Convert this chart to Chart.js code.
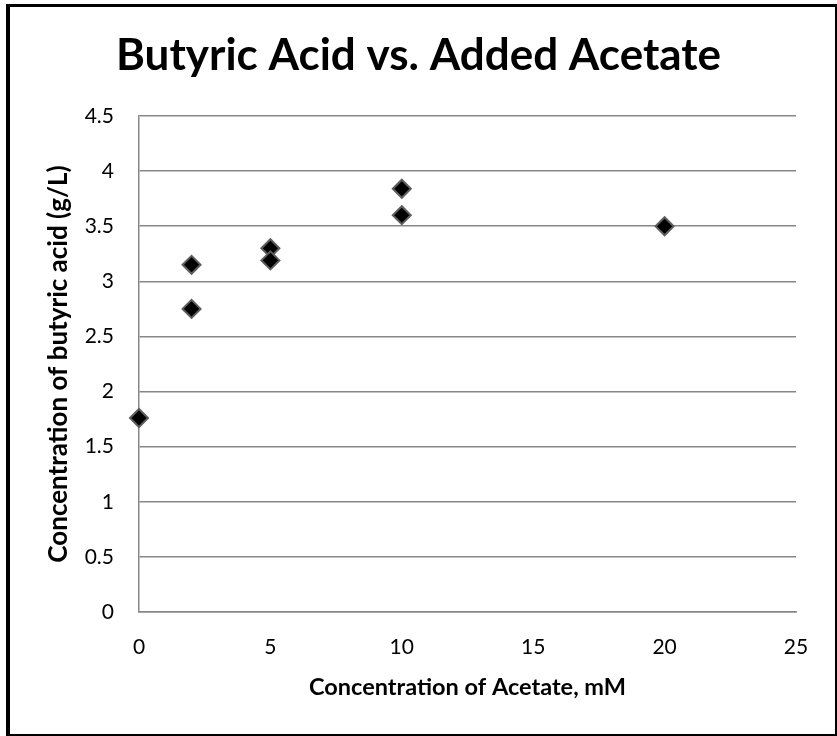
<!DOCTYPE html>
<html>
<head>
<meta charset="utf-8">
<script src="https://cdn.jsdelivr.net/npm/chart.js@4"></script>
<style>
  html, body { margin: 0; padding: 0; background: #fff; }
  #wrap { width: 837px; height: 736px; position: relative; }
</style>
</head>
<body>
<div id="wrap"><canvas id="chart" width="837" height="736"></canvas></div>
<script>
// donnees
const acetate = [0, 2, 2, 5, 5, 10, 10, 20];
const butyric = [1.76, 3.15, 2.75, 3.30, 3.19, 3.84, 3.60, 3.50];
const xTicks = [0, 5, 10, 15, 20, 25];
const yTicks = [0, 0.5, 1, 1.5, 2, 2.5, 3, 3.5, 4, 4.5];

const FONT = 'Lato, "Open Sans", sans-serif';
const GRID = '#878787';

// fond blanc + cadre noir (bords inegaux comme sur l'image)
const frame = {
  id: 'frame',
  beforeDraw(chart) {
    const c = chart.ctx;
    c.save();
    c.fillStyle = '#fff';
    c.fillRect(0, 0, chart.width, chart.height);
    c.fillStyle = '#000';
    c.fillRect(6, 4, 4, 732);
    c.fillRect(6, 4, 831, 3);
    c.fillRect(835, 4, 2, 732);
    c.fillRect(6, 734, 831, 2);
    c.restore();
  }
};

new Chart(document.getElementById('chart'), {
  type: 'scatter',
  data: {
    datasets: [{
      data: acetate.map((x, i) => ({ x, y: butyric[i] })),
      pointStyle: 'rectRot',
      pointRadius: 9,
      pointBackgroundColor: '#000',
      pointBorderColor: '#5e5e5e',
      pointBorderWidth: 2,
      clip: false
    }]
  },
  options: {
    responsive: false,
    animation: false,
    layout: { padding: 0 },
    plugins: {
      legend: { display: false },
      tooltip: { enabled: false },
      title: {
        display: true,
        text: 'Butyric Acid vs. Added Acetate',
        color: '#000',
        font: { family: FONT, size: 44, weight: 'bold' },
        padding: { top: 29, bottom: 34.2 }
      }
    },
    scales: {
      x: {
        type: 'linear',
        min: 0, max: 25,
        afterBuildTicks: s => { s.ticks = xTicks.map(v => ({ value: v })); },
        afterFit: s => { s.height = 124; },
        grid: { display: false, drawTicks: false },
        border: { display: true, color: GRID, width: 1.5 },
        ticks: { color: '#000', font: { family: FONT, size: 21 }, padding: 23, maxRotation: 0, callback: v => v },
        title: {
          display: true,
          text: 'Concentration of Acetate, mM',
          color: '#000',
          font: { family: FONT, size: 23.5, weight: 'bold' },
          padding: { top: 0, bottom: 34 }
        }
      },
      y: {
        min: 0, max: 4.5,
        afterBuildTicks: s => { s.ticks = yTicks.map(v => ({ value: v })); },
        afterFit: s => { s.width = 139; },
        grid: { color: GRID, lineWidth: 1.5, drawTicks: false },
        border: { display: true, color: GRID, width: 1.5 },
        ticks: { color: '#000', font: { family: FONT, size: 21 }, padding: 25, callback: v => v },
        title: {
          display: true,
          text: 'Concentration of butyric acid (g/L)',
          color: '#000',
          font: { family: FONT, size: 26, weight: 'bold' },
          padding: { top: 43, bottom: 0 }
        }
      },
      // axe vide a droite : laisse la marge sans decentrer le titre
      yRight: {
        position: 'right',
        afterFit: s => { s.width = 41; },
        grid: { display: false, drawTicks: false },
        border: { display: false },
        ticks: { display: false }
      }
    }
  },
  plugins: [frame]
});
</script>
</body>
</html>
